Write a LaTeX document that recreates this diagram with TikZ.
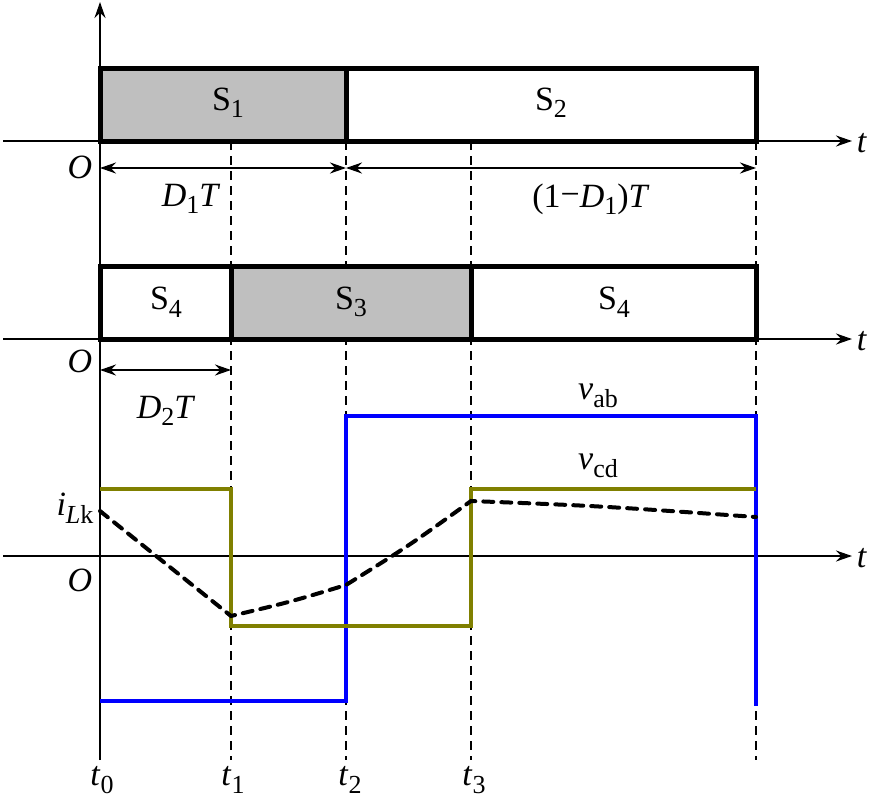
\documentclass[tikz,border=0pt]{standalone}
\usepackage{fontspec}
\setmainfont{Liberation Serif}
\usetikzlibrary{arrows.meta}
\newcommand{\sub}[1]{\raisebox{-0.22em}{\fontsize{26}{27}\selectfont #1}}
\begin{document}
\begin{tikzpicture}[x=1pt,y=-1pt,
  lbl/.style={font=\fontsize{34}{36}\selectfont, inner sep=0pt},
  axis/.style={line width=2pt, -{Stealth[length=16pt,width=11pt]}},
  boxline/.style={line width=5pt},
  dim/.style={line width=2pt, {Stealth[length=16pt,width=11pt]}-{Stealth[length=16pt,width=11pt]}},
  guide/.style={line width=1.6pt, dash pattern=on 9pt off 6pt},
  vab/.style={line width=4.5pt, draw=blue},
  vcd/.style={line width=4.5pt, draw={rgb,255:red,128;green,128;blue,0}},
  ilk/.style={line width=4pt, dash pattern=on 10pt off 8pt, line cap=round}]
\useasboundingbox (0,0) rectangle (870,798);
% vertical axis
\coordinate (yb) at (100,760);
\coordinate (yt) at (100,2);
\draw[axis] (yb) -- (yt);
% guides
\foreach \x/\n in {231/g1,346/g2,471/g3,756/g4} {
  \coordinate (\n a) at (\x,141);
  \coordinate (\n b) at (\x,760);
  \draw[guide] (\n a) -- (\n b);
}
% top box
\fill[gray!50] (100,68) rectangle (346,141);
\draw[boxline] (100,68) rectangle (756,141);
\draw[boxline] (346,68) -- (346,141);
\node[lbl] (s1) at (228,103) {S\sub{1}};
\node[lbl] (s2) at (551,103) {S\sub{2}};
% axis 1
\coordinate (a1l) at (3,141);
\coordinate (a1r) at (852,141);
\draw[axis] (a1l) -- (a1r);
\node[lbl] (t1a) at (862,143) {\textit{t}};
\node[lbl] (o1) at (80,167) {\textit{O}};
% dimension arrows
\coordinate (d0) at (100,168);
\coordinate (d1) at (346,168);
\coordinate (d2) at (756,168);
\draw[dim] (d0) -- (d1);
\draw[dim] (d1) -- (d2);
\node[lbl] (d1t) at (191,199) {\textit{D}\sub{1}\textit{T}};
\node[lbl] (d1tt) at (591,199) {(1\raisebox{0.05em}{\textminus}\textit{D}\sub{1})\textit{T}};
% second box
\fill[gray!50] (231,266) rectangle (471,339);
\draw[boxline] (100,266) rectangle (756,339);
\draw[boxline] (231,266) -- (231,339);
\draw[boxline] (471,266) -- (471,339);
\node[lbl] (s4a) at (166,302) {S\sub{4}};
\node[lbl] (s3) at (351,302) {S\sub{3}};
\node[lbl] (s4b) at (614,302) {S\sub{4}};
\coordinate (a2l) at (3,339);
\coordinate (a2r) at (852,339);
\draw[axis] (a2l) -- (a2r);
\node[lbl] (t2a) at (862,341) {\textit{t}};
\node[lbl] (o2) at (80,361) {\textit{O}};
\coordinate (e0) at (100,370);
\coordinate (e1) at (231,370);
\draw[dim] (e0) -- (e1);
\node[lbl] (d2t) at (166,411) {\textit{D}\sub{2}\textit{T}};
% axis 3
\coordinate (a3l) at (3,556);
\coordinate (a3r) at (852,556);
\draw[axis] (a3l) -- (a3r);
\node[lbl] (t3a) at (862,558) {\textit{t}};
\node[lbl] (o3) at (80,580) {\textit{O}};
% v_ab
\draw[vab] (100,701) -- (346,701) -- (346,416) -- (756,416) -- (756,706);
\node[lbl] (vabl) at (598,396) {\textit{v}\sub{ab}};
% v_cd
\draw[vcd] (100,489) -- (231,489) -- (231,626) -- (471,626) -- (471,489) -- (756,489);
\node[lbl] (vcdl) at (598,466) {\textit{v}\sub{cd}};
% i_Lk
\draw[ilk] (100,511) -- (231,616) .. controls (290,602) .. (346,585) .. controls (410,545) .. (471,501) .. controls (600,506) .. (756,517);
\node[lbl] (ilkl) at (75,508) {\textit{i}\sub{\textit{L}k}};
% t labels
\node[lbl] (tt0) at (102,780) {\textit{t}\sub{0}};
\node[lbl] (tt1) at (233,780) {\textit{t}\sub{1}};
\node[lbl] (tt2) at (350,780) {\textit{t}\sub{2}};
\node[lbl] (tt3) at (474,780) {\textit{t}\sub{3}};
\end{tikzpicture}
\end{document}
